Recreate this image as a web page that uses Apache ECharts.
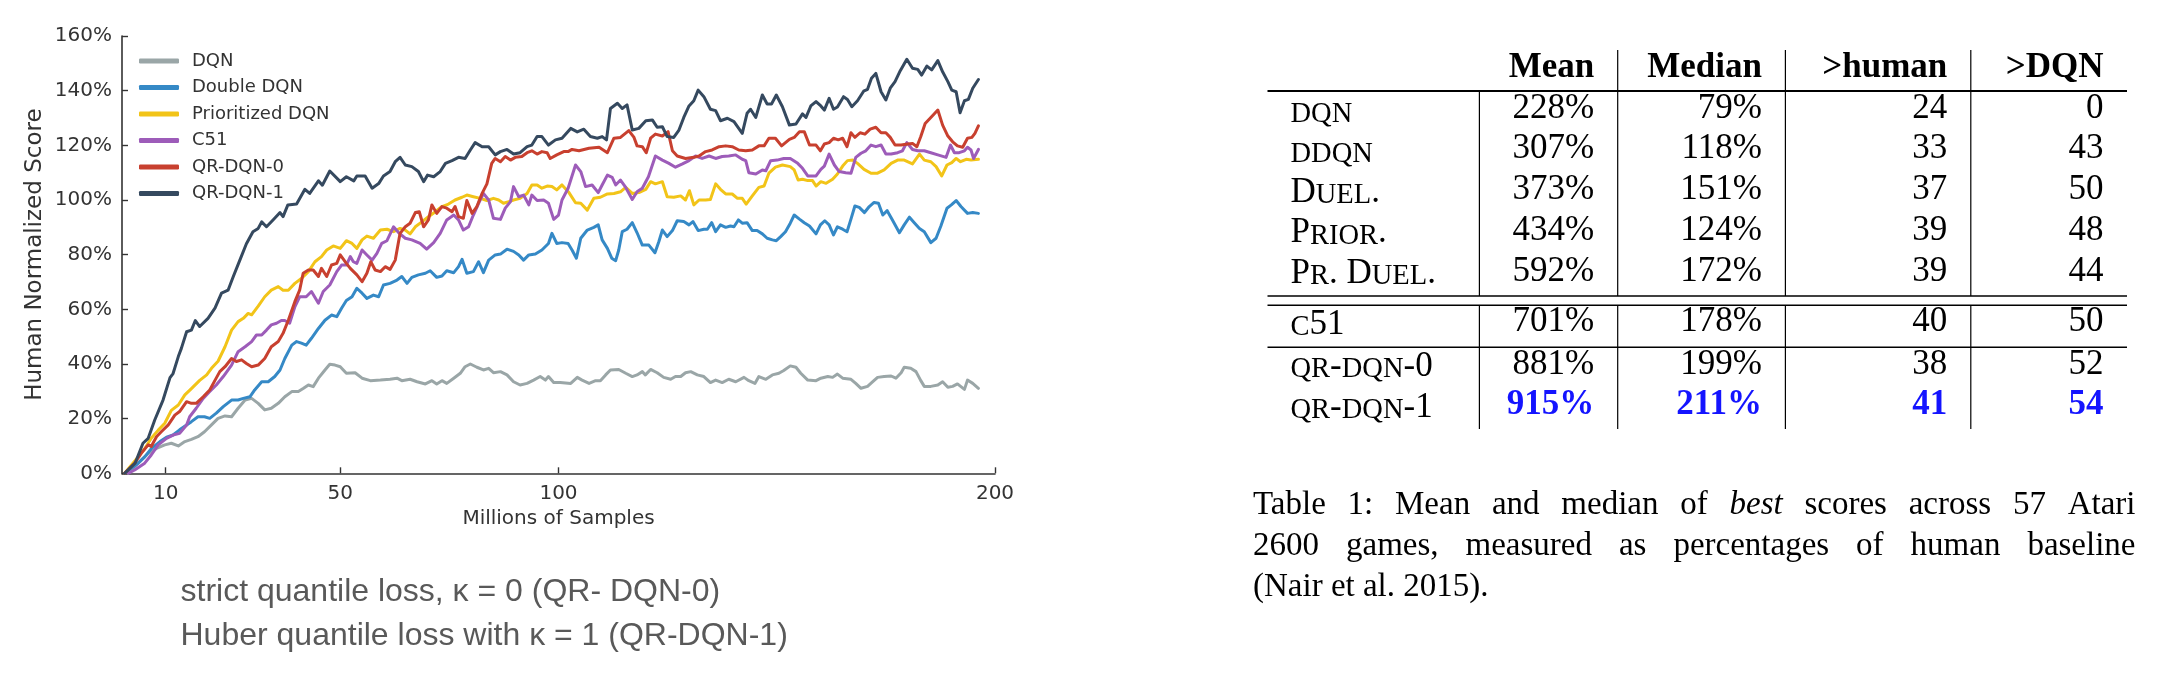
<!DOCTYPE html>
<html><head><meta charset="utf-8">
<script src="https://cdn.jsdelivr.net/npm/echarts@6/dist/echarts.min.js"></script>
<style>html,body{margin:0;padding:0;background:#fff}#c{width:2174px;height:680px}</style>
</head><body><div id="c"></div>
<script>
// ---------------- chart data ----------------
const seriesNames = ['DQN', 'Double DQN', 'Prioritized DQN', 'C51', 'QR-DQN-0', 'QR-DQN-1'];
const seriesColors = ['#9aa6a7', '#3589c6', '#f2c418', '#9d5cb9', '#c8402f', '#35495f'];
const xTickValues = [10, 50, 100, 200];
const yTickStep = 20;

// [millions of samples, human normalized score %]
const dqn = [[1.4,0],[3.7,3.7],[6,7.3],[7.9,9.1],[9.8,10.4],[11.3,11],[12.9,10],[14.4,11.6],[15.9,12.4],[17.4,13.4],[18.9,15.2],[20.5,17.7],[22,20.1],[23.6,21],[25.1,20.7],[26.6,23.8],[28.2,26.8],[29.7,27.4],[31.2,25.6],[32.7,23.2],[34.2,23.8],[35.8,25.6],[37.3,28],[38.9,29.9],[40.4,29.9],[41.5,31],[42.7,32.3],[43.8,31.7],[45,34.8],[46.5,37.8],[47.6,39.9],[48.8,39.6],[50,39],[51.4,36.6],[53.4,36.8],[55,34.8],[56.9,33.9],[59.2,34.1],[61.4,34.4],[63,34.8],[64.1,33.9],[66,34.4],[67.6,33.5],[69.5,32.7],[71,33.9],[72.1,32.7],[73.3,33.9],[74.4,32.9],[76,34.8],[77.5,36.6],[78.6,39],[79.8,40],[81.3,38.8],[82.8,37.8],[84,38.4],[85.1,36.8],[86.7,37.2],[88.2,36],[89.7,33.5],[91.2,32.3],[92.8,32.9],[94.3,34.1],[95.8,35.4],[97,34.1],[97.7,35.4],[98.9,33.2],[100.4,33.2],[102.8,32.9],[104.3,35.1],[105.4,34.1],[107,32.9],[108.5,33.9],[109.6,33.9],[110.8,36],[111.9,37.8],[113.8,38],[115.4,36.6],[116.9,35.4],[118,36],[119.2,37.2],[119.9,36],[121.1,38],[122.6,36.8],[124.1,35.1],[125.7,34.4],[126.8,35.4],[128,35.4],[129.1,36.8],[130.3,37.2],[131.8,36],[133.3,35.4],[134.8,33.2],[136,34.1],[137.5,33.2],[139,34.4],[140.6,33.5],[142.5,35.1],[143.6,33.9],[145,32.9],[145.9,35.4],[147.5,34.4],[149,36],[150.5,36.6],[151.6,37.6],[153.1,39.3],[154.4,38.8],[155.5,36.6],[157.1,34.1],[159,33.9],[160.1,34.8],[161.7,35.4],[162.8,35.1],[163.9,36.3],[165.1,34.8],[167,34.4],[168.1,32.9],[169.3,31.1],[170.8,31.8],[172,33.5],[173.1,35.1],[174.6,35.4],[176.2,35.6],[177.3,34.8],[178.5,36.8],[179.2,38.8],[180.7,38.4],[181.9,37.2],[183,33.9],[183.8,31.8],[185.3,31.8],[186.9,32.3],[188,33.5],[189.2,31.5],[190.3,31.8],[191.4,32.7],[193,30.7],[193.7,34.1],[194.9,32.9],[196.2,31.1]];

const doubleDqn = [[0.6,0],[3.7,3.7],[5.2,6],[6.7,9],[8.7,11.6],[10.2,13.2],[11.7,14],[13.2,15.9],[14.8,17.7],[15.9,18.9],[17.4,20.7],[18.9,20.7],[20.1,20.1],[21.6,22],[23.2,24.4],[25.1,26.8],[26.6,26.8],[27.8,27.4],[29.3,28],[30.4,30.5],[32,33.5],[33.5,33.5],[35,35.4],[36.2,37.8],[37.3,42],[38.9,46.9],[40,48.2],[41.1,47.6],[42.2,46.9],[43.4,49.4],[45,53],[46.5,56],[48,57.9],[49.2,57.3],[50.3,60.4],[51.4,63.2],[52.7,64.6],[53.8,67.7],[55,65.9],[56.1,64],[57.6,65.2],[58.8,64.6],[59.9,68.9],[61.4,69.5],[63,70.7],[64.1,72],[65.3,69.5],[66.4,71.7],[67.9,72.6],[69.5,73.2],[70.6,74.1],[72.1,71.7],[73.3,72.2],[74.4,74.1],[76,73.4],[77.1,75.6],[77.9,78.3],[79,73.2],[80.5,73.8],[81.7,77.4],[82.8,73.4],[84,78],[85.5,79.9],[86.7,80.2],[88.2,82],[89.7,81.2],[90.9,79.9],[92,78],[93.2,79.9],[94.7,80.2],[96.2,81.7],[97.7,84.1],[98.5,87.8],[99.6,84.1],[100.8,84.4],[102.2,84.1],[103.1,81.7],[104.1,78.7],[105.1,86],[106.6,89],[108.1,90],[109.1,90.9],[110,85.4],[111.2,82.3],[112.2,78.7],[113.1,77.8],[113.8,81.7],[114.6,88.4],[115.7,89.3],[116.9,91.7],[118,88],[119.2,83.5],[120.7,83.5],[122.1,80.7],[123,84.8],[123.8,89],[124.9,86.6],[126.1,88.8],[127.2,92.4],[128.7,92.1],[129.9,90.9],[130.8,92.1],[132,88.8],[133.3,89.3],[134.1,89.3],[135.1,91.7],[136,88.4],[137.1,90.9],[138.3,90],[139.4,90.5],[140.2,90.2],[141.2,92.7],[142.1,91.5],[143.2,91.7],[144.4,88.8],[145.5,88.8],[146.7,87.6],[147.8,86],[149,85.4],[149.9,85.1],[150.9,86.6],[152,88.4],[153.1,91.5],[154,94.5],[155.2,93],[156.3,91.7],[157.5,90.5],[159,87.6],[160,90.9],[161,92.4],[162,90.9],[163,87.2],[163.9,90.2],[165.1,89.3],[166.1,88.4],[167,93],[167.9,97.8],[168.9,97.3],[170.1,95.4],[171.2,97.6],[172.3,99.1],[173.3,98.8],[174.3,94.5],[175.3,96.1],[176.5,92.7],[178.1,88],[179.2,90.9],[180.4,93.7],[181.5,91.7],[182.7,89.6],[183.8,88.4],[185.3,84.4],[186.5,86],[187.6,90.5],[189,97],[190,98.2],[191.1,99.8],[192.2,97.6],[193.7,95.1],[194.9,95.4],[196.2,95.1]];

const prioritizedDqn = [[0.6,0],[3.7,6],[5.2,9],[6.7,12.8],[8.3,15.8],[9.8,18.3],[11.3,23],[12.9,25],[14.4,28.7],[15.9,31],[17.8,34],[19.4,36],[20.5,38.4],[22,41],[23.6,46.3],[25.1,52.4],[26.6,55.5],[27.8,56.7],[28.9,58.5],[29.7,58],[31.2,61.2],[32.7,64.6],[34.2,67],[35.8,68.3],[36.9,67],[38.1,67],[39.6,69.5],[41.1,71.3],[42.7,73.8],[44.2,77.4],[45.7,79.3],[46.9,81.7],[48.4,83.2],[50,82.3],[51.4,85.1],[52.7,84.1],[53.8,82.3],[55,85.4],[56.1,86.8],[57.6,86],[59.2,89],[60.7,89.3],[62.2,88.4],[63.7,89.6],[64.9,89],[66,87.6],[67.2,90.2],[68.7,92],[70.2,93.9],[71.8,95.7],[73.3,97.6],[74.8,98.5],[76.3,100],[77.9,101],[79,101.8],[80.5,101.2],[82.1,100.6],[83.6,99.8],[85.1,100.6],[86.3,100],[87.4,98.8],[88.6,99.4],[89.7,100],[91.2,100.6],[92.8,102.4],[93.9,105.5],[95.1,105.5],[96.2,104.3],[97.4,105.1],[98.5,104.9],[99.6,103.7],[100.8,105.5],[102.4,102.7],[103.9,99],[105.1,98.8],[106.6,96.3],[108.1,100.6],[109.6,101],[111.2,102.2],[112.7,102.4],[114.2,103],[115.4,104.6],[116.9,102.4],[118.4,102.7],[120,103.9],[121.1,106.7],[122.2,105.9],[123.8,106.7],[124.9,101.2],[126.4,101],[128,101.5],[129.1,100],[130,103.4],[131,98.2],[132.2,100],[133.7,100],[134.8,100.2],[136,105.9],[137.1,103.9],[138.3,102.2],[139.8,102.2],[141,100.6],[142.1,100.6],[143,98.5],[144.4,101.5],[145.9,104.6],[147.1,105.1],[148.2,109.8],[149.7,112],[151.3,112.8],[153.1,112.2],[154,111],[154.9,107.3],[155.9,107.6],[157.1,107.1],[158.2,107.1],[159,105.1],[160.1,106.7],[161.3,106.1],[162.8,107.6],[163.9,109.5],[165.1,112.4],[166.2,114.4],[167.4,114.6],[168.5,113.4],[170,111.2],[171.6,109.8],[173.1,109.8],[174.6,111],[176.2,113.4],[177.7,114.6],[179.2,114.6],[181.1,113.2],[182.7,116.8],[183.8,114.6],[185.3,114],[186.5,112.2],[187.8,108.8],[189,112.8],[190.1,113.7],[191.1,115.2],[192.1,114],[193.4,114.9],[194.5,114.6],[196.2,114.9]];

const c51 = [[1.4,0],[2.9,1.2],[5.2,3.7],[6.7,6.7],[8.3,10.4],[10.2,12.8],[11.7,14],[13.2,14.6],[14.8,17.7],[15.5,20.7],[17,23.8],[18.6,27.4],[20.1,29.9],[21.6,32.3],[23.2,35.4],[25.1,39.6],[26.6,44.5],[28.2,46.3],[29.7,48.2],[30.8,50.6],[32,50.6],[33.1,52.4],[34.2,54.3],[35.4,54.9],[36.5,55.9],[37.3,55.9],[38.4,54.9],[39.6,60.9],[40.7,64.6],[42.2,64.6],[43.4,66.5],[45,62.2],[46.1,66.5],[47.6,68.9],[49.2,73.8],[50.3,76.2],[51.4,76.2],[52.3,79.3],[53,77.4],[53.8,76.8],[55,81.7],[56.1,79.9],[57.3,78],[58.4,80.5],[59.5,84.1],[60.7,85.1],[62.2,90.2],[63.4,88],[64.9,86],[66.4,85.4],[68.3,84.1],[69.8,82],[71.4,84.4],[72.9,87.8],[74.4,92.7],[76,94.5],[77.1,92.7],[78.2,89],[79.4,90.2],[80.5,94.5],[81.7,98.8],[82.8,102.4],[84,100],[85.1,93.3],[86.7,92.9],[87.8,97],[89,99.4],[89.7,104.9],[90.9,101.2],[92,101.8],[93.2,98.2],[93.9,101.8],[95.1,99.8],[96.6,100],[97.7,98.8],[98.9,92.9],[100,94.5],[100.8,100],[102.2,104.3],[103.9,112.8],[105.1,110.4],[106.2,104.9],[107.7,105.5],[109.1,102.7],[110,105.5],[111.2,109.1],[112.3,108.3],[113.1,105.5],[114.2,107.3],[115.4,104.6],[116.9,100.2],[118,103],[119.2,104.3],[120.6,108.5],[122.2,116.1],[123.8,114.6],[125.3,113.4],[126.8,112],[128.4,113.2],[129.9,114.4],[131.4,116.1],[132.9,115.2],[134.5,116.1],[136,115.2],[137.5,115.9],[139,116.1],[140.6,116.5],[142.1,114.9],[142.9,114.4],[143.6,110],[145.2,109.5],[146.7,111],[147.5,110.7],[148.6,114.4],[150.1,114.6],[151.6,115.2],[153.1,115.2],[154.8,113.4],[155.9,111.6],[157.1,108.8],[159,108.8],[160.1,111.2],[160.9,112.4],[162,116.8],[163.2,112.8],[164.3,110.4],[165.8,110],[167,109.8],[168.1,115.6],[169.3,117.1],[170.4,118],[171.6,120.1],[172.7,119.5],[173.9,120.1],[175,116.8],[176.2,116.8],[177.7,117.3],[178.8,118],[179.8,121],[181.1,118.5],[182.3,118],[183.8,118],[185.3,117.3],[186.9,116.5],[188.8,115.6],[189.8,120.1],[190.7,117.3],[191.8,117.3],[193,118],[193.7,119.3],[194.5,118.3],[195.1,115.2],[196.2,118.5]];

const qrDqn0 = [[0.6,0],[2.9,3.7],[4.4,7.3],[6,10.4],[6.7,9.8],[7.9,13.4],[9,15.2],[10.6,17.7],[12.1,21.3],[13.2,22.6],[14.8,26.2],[15.9,25.6],[17,25.6],[18.6,28],[20.1,30.5],[21.3,34],[22.4,37.2],[23.6,39],[25.1,42],[26.2,40.9],[27.4,41.5],[28.5,40.2],[29.7,39],[31.2,39.6],[32.7,42],[34.2,46.3],[35.8,48.2],[36.9,51.2],[38.1,56],[39.6,62.8],[40.7,67],[41.5,73.2],[42.7,74.4],[43.8,74.4],[45,72],[45.7,75],[46.9,72],[48,76.2],[49.2,76.8],[50,79.9],[51.4,76.8],[52.3,75],[53.8,72.6],[55,70.1],[56.1,73.2],[57,77.4],[58,74.4],[59.2,73.8],[60.3,75.6],[61.4,74.6],[62.6,78],[63.7,87.8],[64.9,90.2],[66,91.5],[67.2,95.4],[68.1,95.7],[69.1,90.2],[70.2,92.7],[71,98.2],[72.1,95.1],[73.3,97.6],[74.4,97],[75.6,95.7],[76.3,97.6],[77.1,93.9],[78.2,93.3],[79,99.8],[80.2,95.1],[81.3,97.6],[82.5,102.4],[83.6,105.9],[84.7,113.4],[85.5,115.2],[86.7,114],[87.8,115.9],[89,114.6],[90.1,115.6],[91.6,115.9],[92.8,117.3],[93.9,118],[95.1,116.8],[96.2,117.7],[97.4,117.3],[98.1,115.2],[99.6,116.5],[101.2,117.7],[102.2,117.7],[103.1,118.5],[104.7,118],[107,118.9],[109.3,119.3],[111.2,117.3],[112.7,122.6],[114.2,122.9],[116.1,125.4],[117.3,122.9],[118,119.8],[119.2,119.5],[120.1,117.3],[121.1,122.6],[122.2,124.1],[123.8,123.4],[125.1,125],[126.1,118],[127.2,116.1],[129.1,115.2],[131,115.6],[132.2,116.1],[133.7,117.7],[135.2,118.3],[136.8,119.5],[138.3,119.8],[139.8,119.5],[141.3,118.3],[142.9,118],[144.4,118.3],[145.9,119.8],[147.1,119.8],[148.2,122.6],[149.7,122.6],[151.1,119.8],[152.9,122.2],[154,122.9],[155.2,125],[156.3,125],[157.5,120.1],[159,120.1],[160,118],[160.9,120.5],[162,121],[163,122.6],[164.1,122],[165.1,122.6],[166.1,119.5],[167,124.6],[167.9,122.9],[169.1,124.6],[170.2,124.1],[171.4,125.9],[172.7,126.6],[173.9,124.6],[175,124.6],[176,122.9],[177.1,120.1],[178.5,120.1],[180,120.5],[181.1,120.7],[182.1,119.5],[183,123.2],[184,128],[185.3,130.2],[186.9,132.9],[188,127.4],[189.2,123.4],[190.3,121.3],[191.4,119.8],[192.6,119.3],[193.7,122.6],[194.7,122.9],[195.4,124.4],[196.2,127.1]];

const qrDqn1 = [[0.6,0],[3,3.7],[4.8,11],[6,12.8],[7.5,19.5],[9.4,26.8],[11,35],[11.7,36.5],[12.9,42.7],[13.6,45.7],[14.8,51.8],[15.9,52.4],[16.8,55.9],[17.8,53.7],[19.7,56.7],[21.3,60.4],[22.8,65.9],[24.3,67],[25.5,72],[27,78],[28.5,84],[30,88.4],[31.2,89.6],[32,92],[33.1,90.2],[34.6,92.7],[36.2,95.4],[36.9,93.9],[38,98.2],[40,98.5],[41.9,103.9],[43,102.4],[45,107],[45.9,105.4],[47.6,110.6],[50,106.7],[51.4,108.5],[53.1,107],[53.8,108.8],[55.7,108.8],[57.3,104.3],[58.8,106],[59.9,108.8],[61.4,110.4],[62.6,114],[63.7,115.6],[64.9,112.8],[66.4,112.2],[67.9,110.4],[69.1,106.7],[70,109.1],[71.4,108.5],[72.9,110.4],[74.1,113.4],[75.6,114.4],[77.1,115.6],[78.6,115.2],[79.8,118.3],[80.9,121],[82.5,119.5],[84,119.5],[85.5,116.5],[86.7,117.7],[88.2,118.5],[89.7,116.8],[91.2,117.3],[92.8,119.5],[93.9,120.1],[95.1,123.2],[96.2,123.2],[97.7,120.1],[99.3,122],[100.8,122.6],[102.8,126.2],[104.3,124.9],[105.8,125.9],[107.3,123.2],[108.9,122.6],[110,123.2],[111,122],[111.9,133.5],[113.5,135.4],[114.6,133.5],[115.7,134.8],[116.9,125.6],[118.4,126.2],[120,129],[121.5,129.3],[122.6,126.6],[123.8,126.8],[124.9,123.2],[126.4,122.9],[127.6,125.6],[128.7,130.2],[129.9,134.4],[131,136.3],[132,140.2],[133.3,137.8],[134.8,133.2],[136,132.7],[137.1,129],[138.7,129.9],[140.2,128.7],[142.1,124.4],[143.2,131.7],[144,133.2],[145.2,130.2],[146.7,138.4],[147.8,135.1],[148.8,135.1],[149.9,138.4],[151.3,134.1],[152.9,127.4],[154.4,127.8],[155.9,131.5],[156.7,130.2],[157.8,134.4],[159,136],[160.1,134.4],[160.9,132.9],[162,137.2],[163,133.2],[163.9,134],[165.3,137.8],[166.2,136.8],[167.2,134.1],[168.5,136.3],[169.9,139.8],[170.8,140.5],[171.7,144.5],[172.7,146.3],[173.9,139.6],[175,136.6],[176,140.9],[177.1,143.3],[178.3,147.3],[179.8,151.5],[181.1,148.2],[182.3,147.8],[183.2,145.7],[184.4,149],[185.5,147.6],[186.9,151],[188,146.9],[189.2,143.3],[190.1,140.2],[191.1,139.6],[192,131.9],[193,136.3],[193.9,136.8],[194.9,140.9],[196.2,144.1]];

// ---------------- table data ----------------
const tableColumns = ['Mean', 'Median', '>human', '>DQN'];
// row names as typeset with small caps (lowercase letters = small capitals)
const tableRowNames = ['dqn', 'ddqn', 'Duel.', 'Prior.', 'Pr. Duel.', 'c51', 'qr-dqn-0', 'qr-dqn-1'];
const tableMean = [228, 307, 373, 434, 592, 701, 881, 915];
const tableMedian = [79, 118, 151, 124, 172, 178, 199, 211];
const tableAboveHuman = [24, 33, 37, 39, 39, 40, 38, 41];
const tableAboveDqn = [0, 43, 50, 48, 44, 50, 52, 54];
const bestRowIndex = 7;

// ---------------- captions ----------------
const leftCaptions = ['strict quantile loss, \u03ba = 0 (QR- DQN-0)', 'Huber quantile loss with \u03ba = 1 (QR-DQN-1)'];
const tableCaptionLines = [
  ['Table', '1:', 'Mean', 'and', 'median', 'of', '*best*', 'scores', 'across', '57', 'Atari'],
  ['2600', 'games,', 'measured', 'as', 'percentages', 'of', 'human', 'baseline'],
  ['(Nair', 'et', 'al.', '2015).']
];

// ---------------- layout ----------------
const SANS = 'DejaVu Sans';
const SERIF = 'Liberation Serif';
const TEXT_COLOR = '#333';
// table layout in table-grid units (grid spans 900 x 400)
const TL = {
  left: 27.5, right: 887,
  labelX: 50.5,
  colEdges: [239.4, 377.7, 545.4, 730.8, 887],
  pad: 23.5,
  headerY: 37.5,
  rowY: [78.7, 119.2, 160.2, 200.8, 241.5, 292, 334.5, 375],
  topRuleY: 61, doubleRuleY: [266, 275.3], midRuleY: 317.3,
  headerTop: 20, bottom: 399,
  fontSize: 35, scSize: 28.5
};

function smallCapsRich(name) {
  let out = '';
  let cur = null, buf = '';
  const flush = () => { if (buf) out += '{' + cur + '|' + buf + '}'; buf = ''; };
  for (const ch of name) {
    const isLower = ch >= 'a' && ch <= 'z';
    const kind = isLower ? 'sc' : 'c';
    if (kind !== cur) { flush(); cur = kind; }
    buf += isLower ? ch.toUpperCase() : ch;
  }
  flush();
  return out;
}

const chart = echarts.init(document.getElementById('c'), null, { renderer: 'canvas', width: 2174, height: 680 });

const lineSeries = [dqn, doubleDqn, prioritizedDqn, c51, qrDqn0, qrDqn1].map((d, i) => ({
  type: 'line', name: seriesNames[i], data: d,
  xAxisIndex: 0, yAxisIndex: 0,
  showSymbol: false, symbol: 'none', silent: true, z: 2 + i,
  lineStyle: { width: 3, color: seriesColors[i], cap: 'round', join: 'round' },
  itemStyle: { color: seriesColors[i] }
}));

function txt(x, y, text, opts) {
  return {
    type: 'text',
    style: Object.assign({
      text: text, x: x, y: y,
      fill: '#000', fontFamily: SERIF, fontSize: TL.fontSize,
      align: 'left', verticalAlign: 'middle', textAlign: 'left', textVerticalAlign: 'middle'
    }, opts || {})
  };
}

// table frame + header
const tableFrameSeries = {
  type: 'custom', xAxisIndex: 1, yAxisIndex: 1, clip: false, silent: true, z: 5,
  data: [[0]],
  renderItem: function (params, api) {
    const ch = [];
    const P = (x, y) => api.coord([x, y]);
    const hline = (y, w) => { const a = P(TL.left, y), b = P(TL.right, y); ch.push({ type: 'line', shape: { x1: a[0], y1: a[1], x2: b[0], y2: b[1] }, style: { stroke: '#000', lineWidth: w } }); };
    const vline = (x, y1, y2) => { const a = P(x, y1), b = P(x, y2); ch.push({ type: 'line', shape: { x1: a[0], y1: a[1], x2: b[0], y2: b[1] }, style: { stroke: '#000', lineWidth: 1.2 } }); };
    hline(TL.topRuleY, 2);
    hline(TL.doubleRuleY[0], 1.4);
    hline(TL.doubleRuleY[1], 1.4);
    hline(TL.midRuleY, 1.4);
    for (let k = 0; k < 4; k++) {
      const x = TL.colEdges[k];
      vline(x, k === 0 ? TL.topRuleY : TL.headerTop, TL.doubleRuleY[0]);
      vline(x, TL.doubleRuleY[1], TL.bottom);
    }
    tableColumns.forEach((c, k) => {
      const p = P(TL.colEdges[k + 1] - TL.pad, TL.headerY);
      ch.push(txt(p[0], p[1], c, { fontWeight: 'bold', align: 'right', textAlign: 'right' }));
    });
    return { type: 'group', children: ch };
  }
};

const tableRowSeries = {
  type: 'custom', xAxisIndex: 1, yAxisIndex: 1, clip: false, silent: true, z: 5,
  data: tableMean.map((v, i) => [i]),
  renderItem: function (params, api) {
    const i = api.value(0);
    const y = TL.rowY[i];
    const ch = [];
    const lp = api.coord([TL.labelX, y]);
    ch.push({
      type: 'text',
      style: {
        text: smallCapsRich(tableRowNames[i]), x: lp[0], y: lp[1],
        align: 'left', verticalAlign: 'middle', textAlign: 'left', textVerticalAlign: 'middle',
        fill: '#000', fontFamily: SERIF, fontSize: TL.fontSize,
        rich: {
          c: { fontFamily: SERIF, fontSize: TL.fontSize, lineHeight: 40, verticalAlign: 'bottom', fill: '#000' },
          sc: { fontFamily: SERIF, fontSize: TL.scSize, lineHeight: 40, verticalAlign: 'bottom', fill: '#000' }
        }
      }
    });
    const vals = [tableMean[i] + '%', tableMedian[i] + '%', String(tableAboveHuman[i]), String(tableAboveDqn[i])];
    const best = i === bestRowIndex;
    vals.forEach((v, k) => {
      const p = api.coord([TL.colEdges[k + 1] - TL.pad, y]);
      ch.push(txt(p[0], p[1], v, {
        align: 'right', textAlign: 'right',
        fontWeight: best ? 'bold' : 'normal',
        fill: best ? '#1414ff' : '#000'
      }));
    });
    return { type: 'group', children: ch };
  }
};

// justified table caption
const measureCtx = document.createElement('canvas').getContext('2d');
const CAP_SIZE = 33;
function capFont(italic) { return (italic ? 'italic ' : '') + CAP_SIZE + 'px "' + SERIF + '"'; }
function measureWord(w, italic) { measureCtx.font = capFont(italic); return measureCtx.measureText(w).width; }
const capLeft = 1253, capRight = 2135.5, capY = [505, 546, 587];
const captionGraphics = [];
tableCaptionLines.forEach((words, li) => {
  const items = words.map(w => { const it = /^\*.*\*$/.test(w); const t = it ? w.slice(1, -1) : w; return { t, it, w: measureWord(t, it) }; });
  const total = items.reduce((s, d) => s + d.w, 0);
  const justify = li < tableCaptionLines.length - 1;
  const gap = justify ? (capRight - capLeft - total) / (items.length - 1) : measureWord(' ', false);
  let x = capLeft;
  items.forEach(d => {
    captionGraphics.push({
      type: 'text', silent: true,
      style: {
        text: d.t, x: x, y: capY[li], fill: '#000',
        fontFamily: SERIF, fontSize: CAP_SIZE, fontStyle: d.it ? 'italic' : 'normal',
        align: 'left', verticalAlign: 'middle', textAlign: 'left', textVerticalAlign: 'middle'
      }
    });
    x += d.w + gap;
  });
});
const leftCaptionY = [592, 636];
leftCaptions.forEach((t, i) => {
  captionGraphics.push({
    type: 'text', silent: true,
    style: {
      text: t, x: 180.5, y: leftCaptionY[i], fill: '#595959',
      fontFamily: 'Liberation Sans', fontSize: 32,
      align: 'left', verticalAlign: 'middle', textAlign: 'left', textVerticalAlign: 'middle'
    }
  });
});

const option = {
  animation: false,
  backgroundColor: '#ffffff',
  grid: [
    { left: 122, top: 36, width: 873, height: 437.3 },
    { left: 1240, top: 30, width: 900, height: 400 }
  ],
  xAxis: [
    {
      type: 'value', gridIndex: 0, min: 0, max: 200,
      axisLine: { show: true, onZero: false, lineStyle: { color: TEXT_COLOR, width: 1.6 } },
      axisTick: { show: true, inside: true, length: 6, customValues: xTickValues, lineStyle: { color: TEXT_COLOR, width: 1.4 } },
      axisLabel: { customValues: xTickValues, margin: 10, fontSize: 20, fontFamily: SANS, color: TEXT_COLOR },
      splitLine: { show: false },
      name: 'Millions of Samples', nameLocation: 'middle', nameGap: 35,
      nameTextStyle: { fontSize: 20, fontFamily: SANS, color: TEXT_COLOR }
    },
    { type: 'value', gridIndex: 1, min: 0, max: 900, show: false }
  ],
  yAxis: [
    {
      type: 'value', gridIndex: 0, min: 0, max: 160, interval: yTickStep,
      axisLine: { show: true, onZero: false, lineStyle: { color: TEXT_COLOR, width: 1.6 } },
      axisTick: { show: true, inside: true, length: 6, lineStyle: { color: TEXT_COLOR, width: 1.4 } },
      axisLabel: { formatter: '{value}%', margin: 10, fontSize: 20, fontFamily: SANS, color: TEXT_COLOR },
      splitLine: { show: false },
      name: 'Human Normalized Score', nameLocation: 'middle', nameGap: 75,
      nameTextStyle: { fontSize: 23, fontFamily: SANS, color: TEXT_COLOR }
    },
    { type: 'value', gridIndex: 1, min: 0, max: 400, inverse: true, show: false }
  ],
  legend: {
    data: seriesNames, orient: 'vertical', left: 139, top: 51, padding: 0,
    itemWidth: 40, itemHeight: 5, itemGap: 6.5, icon: 'roundRect', selectedMode: false,
    textStyle: { fontFamily: SANS, fontSize: 18, color: TEXT_COLOR, lineHeight: 20, padding: [0, 0, 0, 8] }
  },
  series: lineSeries.concat([tableFrameSeries, tableRowSeries]),
  graphic: captionGraphics
};
chart.setOption(option);
</script>
</body></html>
